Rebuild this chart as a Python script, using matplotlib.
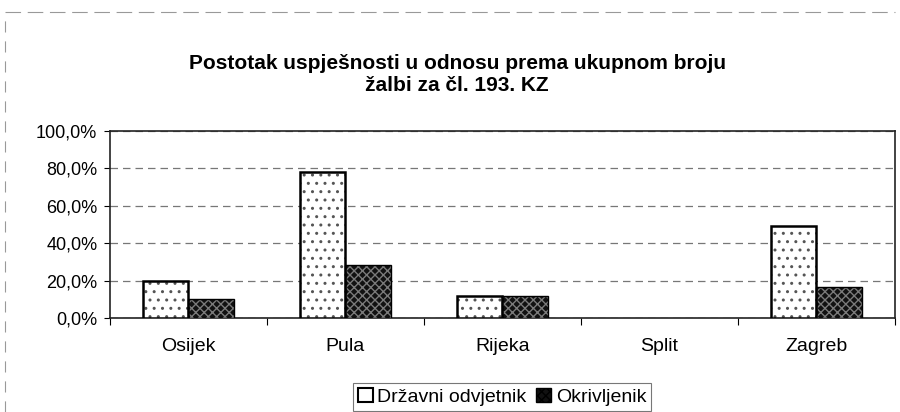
import numpy as np
import matplotlib.pyplot as plt
from matplotlib.patches import Patch
from matplotlib.lines import Line2D
from matplotlib.ticker import FixedLocator, NullFormatter

plt.rcParams['font.family'] = ['Liberation Sans', 'DejaVu Sans']
plt.rcParams['hatch.linewidth'] = 1.0

gradovi = ['Osijek', 'Pula', 'Rijeka', 'Split', 'Zagreb']
drzavni = [20.0, 78.0, 12.0, 0.0, 49.0]
okrivljenik = [10.0, 28.5, 12.0, 0.0, 16.5]
y_ticks = [0, 20, 40, 60, 80, 100]

fig = plt.figure(figsize=(9, 4.12), dpi=100)
ax = fig.add_axes([0.122, 0.228, 0.872, 0.454])

x = np.arange(len(gradovi))
w = 0.29

def outline(vals):
    # no outline for empty bars (Split)
    return ['black' if v > 0 else 'none' for v in vals]

# Drzavni odvjetnik - white with dots
ax.bar(x - w / 2, drzavni, w, color='white', edgecolor='#555555', hatch='..', linewidth=0, zorder=3)
ax.bar(x - w / 2, drzavni, w, fill=False, edgecolor=outline(drzavni), linewidth=1.8, zorder=4)
# Okrivljenik - dark with light pattern
ax.bar(x + w / 2, okrivljenik, w, color='#111111', edgecolor='#7a7a7a', hatch='xxxx', linewidth=0, zorder=3)
ax.bar(x + w / 2, okrivljenik, w, fill=False, edgecolor=outline(okrivljenik), linewidth=1.0, zorder=4)

ax.set_xlim(-0.5, len(gradovi) - 0.5)
ax.set_ylim(0, 100)
ax.set_yticks(y_ticks)
ax.set_yticklabels([('%.1f%%' % v).replace('.', ',') for v in y_ticks], fontsize=13)
ax.yaxis.grid(True, linestyle=(0, (6, 4)), color='#777777', linewidth=0.9, zorder=1)

ax.xaxis.set_major_locator(FixedLocator(np.arange(-0.5, len(gradovi), 1.0)))
ax.xaxis.set_major_formatter(NullFormatter())
ax.xaxis.set_minor_locator(FixedLocator(x))
ax.set_xticklabels(gradovi, minor=True, fontsize=14)
ax.tick_params(axis='x', which='minor', length=0, pad=14)
ax.tick_params(axis='x', which='major', length=5, direction='out')
ax.tick_params(axis='y', length=4, direction='out', pad=5)

for s in ax.spines.values():
    s.set_color('#222222')
    s.set_linewidth(1.2)

fig.text(0.508, 0.82, 'Postotak uspješnosti u odnosu prema ukupnom broju\nžalbi za čl. 193. KZ',
         ha='center', va='center', fontsize=15, fontweight='bold', linespacing=1.2)

handles = [Patch(facecolor='white', edgecolor='black', linewidth=1.5),
           Patch(facecolor='#111111', edgecolor='black', hatch='xxxx', linewidth=1.0)]
leg = fig.legend(handles, ['Državni odvjetnik', 'Okrivljenik'], loc='center',
                 bbox_to_anchor=(0.558, 0.036), ncol=2, fontsize=14, frameon=True,
                 fancybox=False, edgecolor='#555555', handlelength=0.75, handleheight=0.75,
                 handletextpad=0.25, columnspacing=0.5, borderpad=0.25, borderaxespad=0)
leg.get_frame().set_linewidth(0.8)

# partial outer frame left over from the scan
fig.add_artist(Line2D([0.006, 0.994], [0.97, 0.97], transform=fig.transFigure,
                      color='#999999', linewidth=0.8, linestyle=(0, (14, 6))))
fig.add_artist(Line2D([0.006, 0.006], [0.0, 0.97], transform=fig.transFigure,
                      color='#999999', linewidth=0.8, linestyle=(0, (10, 8))))

fig.savefig('out.png', dpi=100)
